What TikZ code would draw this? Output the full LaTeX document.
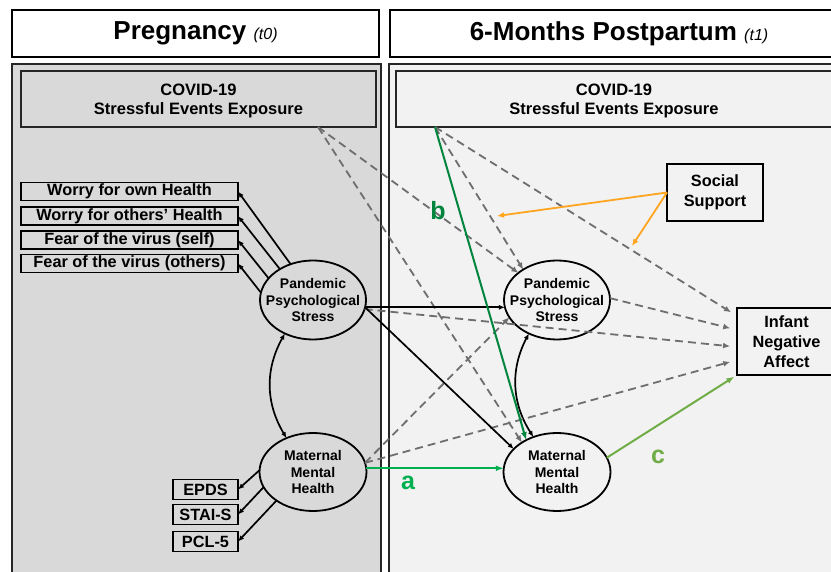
\documentclass[tikz,border=0pt]{standalone}
\usepackage{fontspec}
\setmainfont{Liberation Sans}
\usetikzlibrary{arrows.meta,shapes.geometric}
\definecolor{panelL}{HTML}{D9D9D9}
\definecolor{panelR}{HTML}{F2F2F2}
\definecolor{dashgray}{HTML}{6E6E6E}
\definecolor{gA}{HTML}{00B050}
\definecolor{gB}{HTML}{00853E}
\definecolor{gC}{HTML}{70AD47}
\definecolor{orng}{HTML}{FFA51F}
\begin{document}
\begin{tikzpicture}[x=1pt,y=-1pt,
  every node/.style={inner sep=0pt, outer sep=0pt},
  hdrbox/.style={draw=black, line width=1.8pt, fill=white, font=\bfseries\fontsize{26}{30}\selectfont},
  covbox/.style={draw=black!85, line width=1.8pt, align=center, font=\bfseries\fontsize{16.5}{19}\selectfont},
  covtext/.style={align=center, yshift=-2pt, font=\bfseries\fontsize{16.5}{19}\selectfont},
  indbox/.style={draw=black, line width=1.7pt, fill=panelL, minimum width=217pt, minimum height=18pt, font=\bfseries\fontsize{16.3}{16}\selectfont},
  obsbox/.style={draw=black, line width=1.7pt, fill=panelL, minimum width=65pt, minimum height=20pt, font=\bfseries\fontsize{16.3}{16}\selectfont},
  latent/.style={ellipse, draw=black, line width=1.8pt, minimum width=106pt, minimum height=79pt},
  lattext/.style={align=center, font=\bfseries\fontsize{14}{16.5}\selectfont},
  sidebox/.style={draw=black, line width=1.8pt, fill=panelR, align=center, font=\bfseries\fontsize{16.3}{20}\selectfont},
  pathlbl/.style={font=\bfseries\fontsize{25}{25}\selectfont},
  blk/.style={draw=black, line width=1.7pt, -{Latex[length=6pt,width=5pt]}},
  dsh/.style={draw=dashgray, line width=1.8pt, dash pattern=on 8pt off 5pt, -{Latex[length=7pt,width=6pt]}},
  grn/.style={line width=2pt, -{Latex[length=8pt,width=6pt]}},
  org/.style={draw=orng, line width=1.8pt, -{Latex[length=7pt,width=6pt]}}
]
\useasboundingbox (0,0) rectangle (831,572);
\clip (0,0) rectangle (831,572);
\fill[white] (0,0) rectangle (831,572);

% headers
\node[hdrbox, minimum width=367pt, minimum height=47pt] (hdrL) at (195.5,33.5)
  {Pregnancy {\mdseries\itshape\fontsize{16}{16}\selectfont (t0)}};
\node[hdrbox, minimum width=458pt, minimum height=47pt] (hdrR) at (619,33.5)
  {6-Months Postpartum {\mdseries\itshape\fontsize{16}{16}\selectfont (t1)}};

% panels
\filldraw[fill=panelL, draw=black!85, line width=2.2pt] (12,64) rectangle (381,600);
\filldraw[fill=panelR, draw=black!85, line width=2.2pt] (389,64) rectangle (870,600);

% COVID boxes
\node[covbox, fill=panelL, minimum width=355pt, minimum height=56pt,
  label={[covtext]center:{COVID-19\\Stressful Events Exposure}}] (covL) at (198.5,99) {};
\node[covbox, fill=panelR, minimum width=436pt, minimum height=56pt,
  label={[covtext]center:{COVID-19\\Stressful Events Exposure}}] (covR) at (614,99) {};
\coordinate (covLb) at ([xshift=297pt]covL.south west);
\coordinate (covRb) at ([xshift=39pt]covR.south west);

% indicators of pandemic stress
\node[indbox] (wOwn) at (129.5,191.5) {Worry for own Health};
\node[indbox] (wOth) at (129.5,216) {Worry for others’ Health};
\node[indbox] (fSelf) at (129.5,240) {Fear of the virus (self)};
\node[indbox] (fOth) at (129.5,263.5) {Fear of the virus (others)};

% indicators of maternal mental health
\node[obsbox] (epds) at (205.5,489.5) {EPDS};
\node[obsbox] (stai) at (205.5,514.5) {STAI-S};
\node[obsbox] (pcl) at (205.5,541.5) {PCL-5};

% latent variables
\node[latent, fill=panelL, label={[lattext]center:{Pandemic\\Psychological\\Stress}}] (ppsL) at (313,300) {};
\node[latent, fill=panelL, minimum width=107pt, minimum height=78pt, label={[lattext]center:{Maternal\\Mental\\Health}}] (mmhL) at (313,472) {};
\node[latent, fill=panelR, label={[lattext]center:{Pandemic\\Psychological\\Stress}}] (ppsR) at (557,300) {};
\node[latent, fill=panelR, minimum width=107pt, minimum height=78pt, label={[lattext]center:{Maternal\\Mental\\Health}}] (mmhR) at (557,472) {};

% side boxes
\node[sidebox, minimum width=96pt, minimum height=57pt] (social) at (715,192.5) {Social\\Support};
\node[sidebox, minimum width=99pt, minimum height=67pt] (infant) at (786.5,341.5) {Infant\\Negative\\Affect};

% measurement arrows
\draw[blk] (ppsL.122) -- (wOwn.east);
\draw[blk] (ppsL.137) -- (wOth.east);
\draw[blk] (ppsL.154) -- (fSelf.east);
\draw[blk] (ppsL.172) -- (fOth.east);
\draw[blk] (mmhL.178) -- (epds.east);
\draw[blk] (mmhL.197) -- (stai.east);
\draw[blk] (mmhL.218) -- (pcl.east);

% covariances
\draw[blk, {Latex[length=6pt,width=5pt]}-{Latex[length=6pt,width=5pt]}] (ppsL.230) to[bend right=30] (mmhL.128);
\draw[blk, {Latex[length=6pt,width=5pt]}-{Latex[length=6pt,width=5pt]}] (ppsR.230) to[bend right=30] (mmhR.124);

% dashed paths
\draw[dsh] (covLb) -- (ppsR.145);
\draw[dsh] (covLb) -- (mmhR.140);
\draw[dsh] (covRb) -- (ppsR.138);
\draw[dsh, shorten >=7pt] (covRb) -- ([yshift=25.5pt]infant.west);
\draw[dsh, shorten >=7pt] (ppsR.2) -- ([yshift=11.5pt]infant.west);
\draw[dsh, shorten >=7pt] (ppsL.350) -- ([yshift=-5.5pt]infant.west);
\draw[dsh, shorten >=7pt] (mmhL.10) -- ([yshift=-18.5pt]infant.west);
\draw[dsh] (mmhL.10) -- (ppsR.200);

% solid paths
\draw[blk] (ppsL.352) -- (ppsR.188);
\draw[blk] (ppsL.352) -- (mmhR.152);

% green paths
\draw[grn, draw=gA] (mmhL.4) -- (mmhR.176);
\draw[grn, draw=gB] (covRb) -- (mmhR.134);
\draw[grn, draw=gC, shorten >=3pt] (mmhR.16) -- (infant.south west);

% moderation arrows
\coordinate (modA) at (497,216);
\coordinate (modB) at (632,246);
\draw[org] (social.west) -- (modA);
\draw[org] (social.west) -- (modB);

% path labels
\node[pathlbl, text=gA] (la) at (408,483) {a};
\node[pathlbl, text=gB] (lb) at (438,211) {b};
\node[pathlbl, text=gC] (lc) at (658,457) {c};
\end{tikzpicture}
\end{document}
